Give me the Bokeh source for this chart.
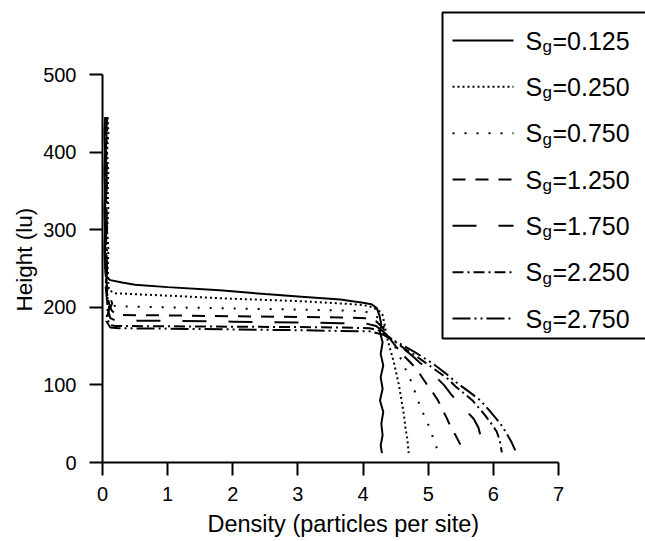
from bokeh.plotting import figure
from bokeh.models import Title, FixedTicker
from bokeh.core.properties import value
from bokeh.embed import file_html
from bokeh.resources import INLINE

# ---------------- data (height, density) ----------------
sg_labels = ["0.125", "0.250", "0.750", "1.250", "1.750", "2.250", "2.750"]

p0125 = [(445,0.04),(425,0.03),(400,0.04),(375,0.03),(350,0.04),(325,0.03),(300,0.04),(275,0.03),(252,0.04),(240,0.05),(235,0.12),(232,0.30),(229,0.50),(226,1.00),(222,1.80),(217,2.50),(214,3.00),(210,3.65),(206,4.00),(204,4.13),(199,4.21),(190,4.25),(178,4.28),(168,4.26),(155,4.30),(140,4.27),(125,4.31),(110,4.27),(95,4.30),(80,4.26),(65,4.31),(50,4.28),(35,4.30),(22,4.27),(12,4.29)]
p0250 = [(445,0.08),(425,0.09),(400,0.07),(375,0.09),(350,0.08),(325,0.09),(300,0.07),(275,0.09),(250,0.08),(232,0.09),(222,0.10),(218,0.20),(216.5,0.60),(215,1.00),(213,1.50),(211,2.00),(209.5,2.50),(208,3.00),(205,3.65),(203,4.00),(200,4.15),(195,4.25),(190,4.30),(178,4.33),(168,4.35),(160,4.37),(145,4.42),(130,4.47),(115,4.51),(100,4.55),(80,4.59),(60,4.63),(45,4.65),(30,4.68),(12,4.70)]
p0750 = [(445,0.06),(425,0.07),(400,0.06),(375,0.07),(350,0.06),(325,0.07),(300,0.06),(275,0.07),(250,0.06),(225,0.07),(208,0.08),(202,0.15),(201,0.30),(200,1.00),(198.5,2.00),(197,3.00),(196,3.65),(195,4.00),(192,4.15),(185,4.25),(175,4.32),(165,4.36),(153,4.47),(130,4.60),(106,4.73),(88,4.81),(71,4.88),(55,4.97),(41,5.04),(25,5.10),(13,5.16)]
p1250 = [(445,0.05),(425,0.06),(400,0.05),(375,0.06),(350,0.05),(325,0.06),(300,0.05),(275,0.06),(250,0.05),(225,0.07),(205,0.10),(196,0.14),(191,0.20),(190,0.30),(189.5,1.00),(188.5,2.00),(187.5,3.00),(187,3.65),(186,4.05),(182,4.20),(174,4.30),(163,4.38),(150,4.50),(138,4.62),(127,4.75),(118,4.84),(108,4.92),(98,5.00),(89,5.08),(80,5.15),(68,5.22),(58,5.28),(45,5.35),(35,5.42),(22,5.50),(13,5.55)]
p1750 = [(445,0.07),(425,0.06),(400,0.07),(375,0.06),(350,0.07),(325,0.06),(300,0.07),(275,0.06),(250,0.07),(225,0.06),(205,0.15),(195,0.09),(186,0.12),(183,0.20),(182.5,1.00),(181.5,2.00),(180.5,3.00),(179.5,3.65),(179,4.05),(176,4.20),(168,4.32),(158,4.45),(148,4.60),(138,4.75),(128,4.88),(120,5.00),(110,5.12),(100,5.24),(89,5.34),(78,5.45),(67,5.58),(56,5.70),(45,5.77),(35,5.80),(25,5.82),(13,5.83)]
p2250 = [(445,0.05),(425,0.04),(400,0.05),(375,0.04),(350,0.05),(325,0.04),(300,0.05),(275,0.04),(250,0.05),(225,0.06),(200,0.10),(185,0.07),(177,0.12),(176,0.20),(175.5,1.00),(175,2.00),(174.5,3.00),(174,3.65),(173,4.10),(170,4.25),(163,4.38),(155,4.50),(146,4.65),(138,4.80),(126,5.00),(117,5.15),(108,5.30),(98,5.42),(89,5.55),(80,5.68),(70,5.78),(60,5.88),(50,5.97),(40,6.05),(28,6.10),(13,6.13)]
p2750 = [(445,0.06),(425,0.05),(400,0.06),(375,0.05),(350,0.06),(325,0.05),(300,0.06),(275,0.05),(250,0.06),(225,0.05),(200,0.08),(182,0.06),(174,0.12),(173,0.25),(172.5,1.00),(171.5,2.00),(170.5,3.00),(169.5,3.65),(169,4.10),(165,4.30),(158,4.45),(153,4.57),(142,4.80),(127,5.08),(114,5.28),(102,5.45),(91,5.63),(80,5.80),(66,5.95),(50,6.11),(38,6.20),(26,6.28),(15,6.34),(12,6.35)]

profiles = [p0125, p0250, p0750, p1250, p1750, p2250, p2750]
x_ticks = [0, 1, 2, 3, 4, 5, 6, 7]
y_ticks = [0, 100, 200, 300, 400, 500]

# ---------------- styles / layout ----------------
dashes = ["solid", "2 3", "2 10", "13 10", "24 22", "11 4 2 4", "18 4 2 4 2 4"]
FONT = "Liberation Sans"

W, H = 645, 541
F_LEFT, F_TOP, F_BOTTOM, F_RIGHT = 102, 10, 462, W
PXX = 456 / 7.0
PXY = 388 / 500.0

def dx(px):
    return (px - F_LEFT) / PXX

def dy(py):
    return (F_BOTTOM - py) / PXY

p = figure(width=W, height=H, title=None,
           x_range=(0, dx(F_RIGHT)), y_range=(0, dy(F_TOP)),
           output_backend="svg", toolbar_location=None,
           min_border_left=F_LEFT, min_border_right=0,
           min_border_top=F_TOP, min_border_bottom=H - F_BOTTOM)
p.outline_line_color = None
p.grid.visible = False
p.background_fill_color = "white"
p.border_fill_color = "white"

for ax, ticks, bnd in ((p.xaxis[0], x_ticks, (0, 7)), (p.yaxis[0], y_ticks, (0, 500))):
    ax.ticker = FixedTicker(ticks=ticks)
    ax.bounds = bnd
    ax.axis_line_width = 2
    ax.axis_line_color = "black"
    ax.major_tick_line_width = 2
    ax.major_tick_line_color = "black"
    ax.major_tick_out = 13
    ax.major_tick_in = 0
    ax.minor_tick_line_color = None
    ax.major_label_text_font = FONT
    ax.major_label_text_font_size = "20px"
    ax.major_label_text_color = "black"
p.xaxis.major_label_standoff = 11
p.yaxis.major_label_standoff = 13

for prof, dash in zip(profiles, dashes):
    hs = [a for a, b in prof]
    ds = [b for a, b in prof]
    p.line(ds, hs, line_color="black", line_width=2, line_dash=dash)

# axis titles (as side titles so they can be offset along the axis)
p.add_layout(Title(text="Density (particles per site)", align="left", offset=207 - F_LEFT,
                   text_font=FONT, text_font_size="23.5px", text_font_style="normal",
                   text_color="black", standoff=10), "below")
p.add_layout(Title(text="Height (lu)", align="left", offset=F_BOTTOM - 311,
                   text_font=FONT, text_font_size="22.5px", text_font_style="normal",
                   text_color="black", standoff=8), "left")

# legend box and entries
p.quad(left=[dx(442)], right=[dx(F_RIGHT + 40)], bottom=[dy(338)], top=[dy(12)],
       fill_color="white", line_color="black", line_width=2)

row_y = [40 + i * (318 - 40) / 6.0 for i in range(7)]
for ry, dash in zip(row_y, dashes):
    p.line([dx(452), dx(513)], [dy(ry), dy(ry)], line_color="black", line_width=2, line_dash=dash)

ys = [dy(ry) for ry in row_y]
p.text(x=[dx(525)] * 7, y=ys, text=["S"] * 7, text_font=value(FONT), text_font_size="25px",
       text_align="left", text_baseline="middle", text_color="black")
p.text(x=[dx(542)] * 7, y=ys, text=["g"] * 7, text_font=value(FONT), text_font_size="17px",
       text_align="left", text_baseline="middle", y_offset=6, text_color="black")
p.text(x=[dx(552)] * 7, y=ys, text=["=" + s for s in sg_labels], text_font=value(FONT),
       text_font_size="25px", text_align="left", text_baseline="middle", text_color="black")

open("out.html", "w").write(file_html(p, INLINE))
